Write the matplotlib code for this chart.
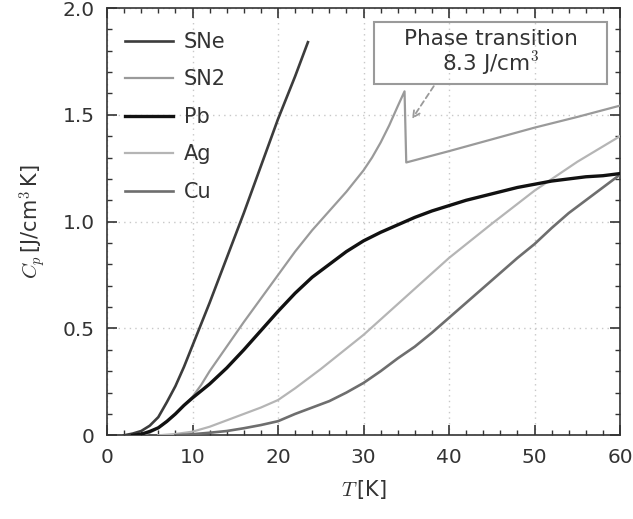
import matplotlib
matplotlib.use("Agg")
import matplotlib.pyplot as plt
from matplotlib.patches import Rectangle, FancyArrowPatch

plt.rcParams['font.family'] = ['DejaVu Sans']
plt.rcParams['mathtext.fontset'] = 'cm'

# ---- data ----
sne_T = [2, 3, 4, 5, 6, 7, 8, 9, 10, 11, 12, 14, 16, 18, 20, 22, 23.5]
sne_C = [0.0, 0.008, 0.02, 0.045, 0.085, 0.155, 0.23, 0.32, 0.42, 0.52, 0.62, 0.83, 1.04, 1.26, 1.48, 1.68, 1.84]

sn2_T = [4, 5, 6, 7, 8, 9, 10, 11, 12, 14, 16, 18, 20, 22, 24, 26, 27, 28, 29, 30, 31, 32, 33, 34, 34.8, 35.0,
         40, 45, 50, 55, 60]
sn2_C = [0.0, 0.012, 0.035, 0.065, 0.10, 0.14, 0.18, 0.235, 0.30, 0.415, 0.53, 0.64, 0.75, 0.86, 0.96, 1.05, 1.095,
         1.14, 1.19, 1.24, 1.30, 1.37, 1.45, 1.54, 1.61, 1.277, 1.33, 1.385, 1.44, 1.49, 1.543]

pb_T = [3, 4, 5, 6, 7, 8, 9, 10, 12, 14, 16, 18, 20, 22, 24, 26, 28, 30, 32, 34, 36, 38, 40, 42, 44, 46, 48, 50,
        52, 54, 56, 58, 60]
pb_C = [0.0, 0.005, 0.018, 0.035, 0.065, 0.10, 0.14, 0.175, 0.24, 0.315, 0.40, 0.49, 0.58, 0.665, 0.74, 0.80, 0.86,
        0.91, 0.95, 0.985, 1.02, 1.05, 1.075, 1.10, 1.12, 1.14, 1.16, 1.175, 1.19, 1.20, 1.21, 1.215, 1.225]

ag_T = [6, 8, 10, 12, 14, 16, 18, 20, 22, 25, 30, 35, 40, 45, 50, 55, 60]
ag_C = [0.0, 0.006, 0.017, 0.04, 0.07, 0.10, 0.13, 0.165, 0.22, 0.31, 0.47, 0.65, 0.83, 0.99, 1.145, 1.28, 1.40]

cu_T = [8, 10, 12, 14, 16, 18, 20, 22, 24, 26, 28, 30, 32, 34, 36, 38, 40, 42, 44, 46, 48, 50, 52, 54, 56, 58, 60]
cu_C = [0.0, 0.005, 0.012, 0.02, 0.033, 0.048, 0.066, 0.10, 0.13, 0.16, 0.20, 0.245, 0.30, 0.36, 0.415, 0.48,
        0.55, 0.62, 0.69, 0.76, 0.83, 0.895, 0.97, 1.04, 1.10, 1.16, 1.22]

labels = ['SNe', 'SN2', 'Pb', 'Ag', 'Cu']
x_ticks = [0, 10, 20, 30, 40, 50, 60]
y_ticks = [0, 0.5, 1.0, 1.5, 2.0]
y_tick_labels = ['0', '0.5', '1.0', '1.5', '2.0']
annot_text = 'Phase transition\n8.3 J/cm$^3$'

# ---- figure ----
fig = plt.figure(figsize=(6.33, 5.19), dpi=100)
ax = fig.add_axes([107 / 633, 1 - 435.3 / 519, 513 / 633, 427.3 / 519])

ax.plot(sne_T, sne_C, color='#3c3c3c', lw=1.9, label=labels[0], zorder=3)
ax.plot(sn2_T, sn2_C, color='#9a9a9a', lw=1.6, label=labels[1], zorder=3)
ax.plot(pb_T, pb_C, color='#111111', lw=2.4, label=labels[2], zorder=4)
ax.plot(ag_T, ag_C, color='#b5b5b5', lw=1.6, label=labels[3], zorder=3)
ax.plot(cu_T, cu_C, color='#6e6e6e', lw=1.9, label=labels[4], zorder=3)

ax.set_xlim(0, 60)
ax.set_ylim(0, 2.0)
ax.set_xticks(x_ticks)
ax.set_yticks(y_ticks)
ax.set_yticklabels(y_tick_labels)
ax.set_xticks([v for v in range(0, 61, 2) if v % 10], minor=True)
ax.set_yticks([i * 0.1 for i in range(21) if i % 5], minor=True)
ax.tick_params(which='both', direction='in', top=True, right=True, labelsize=14.5, colors='#333333')
ax.tick_params(which='major', length=7, width=1.2, pad=9)
ax.tick_params(which='minor', length=3.5, width=1.0)
for s in ax.spines.values():
    s.set_color('#333333')
    s.set_linewidth(1.2)
ax.grid(True, which='major', linestyle=(0, (1, 3)), color='#c8c8c8', linewidth=1.0)
ax.set_axisbelow(True)

ax.set_xlabel(r'$T\,$[K]', fontsize=15, color='#333333', labelpad=8)
ax.set_ylabel(r'$C_p\,$[J/cm$^3\,$K]', fontsize=15, color='#333333', labelpad=10)

leg = ax.legend(loc='upper left', bbox_to_anchor=(-0.005, 0.993), frameon=False, fontsize=15,
                handlelength=2.3, handletextpad=0.5, labelspacing=0.84, borderaxespad=0.6)
for t in leg.get_texts():
    t.set_color('#333333')

# annotation box
ax.add_patch(Rectangle((31.25, 1.645), 27.25, 0.29, fill=False, edgecolor='#9a9a9a', lw=1.5, zorder=5))
ax.text(44.9, 1.79, annot_text, ha='center', va='center', fontsize=15.5, color='#333333',
        linespacing=1.0, zorder=6)
arrow = FancyArrowPatch((38.4, 1.645), (35.5, 1.47), arrowstyle='->', mutation_scale=12,
                        color='#9a9a9a', lw=1.3, linestyle=(0, (3, 2)), zorder=5)
ax.add_patch(arrow)

fig.savefig('out.png', dpi=100)
